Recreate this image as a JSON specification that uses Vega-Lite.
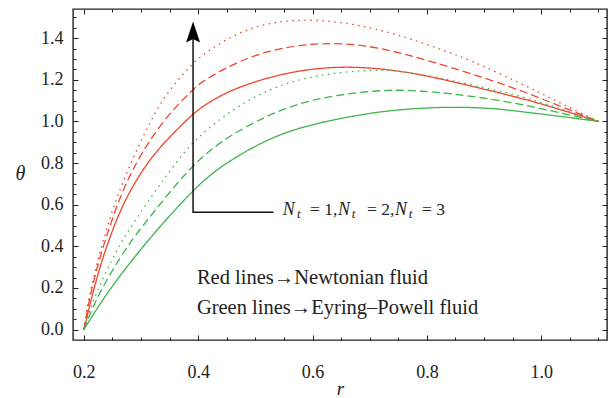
{
  "$schema": "https://vega.github.io/schema/vega-lite/v6.json",
  "autosize": {"type": "none"},
  "padding": {"left": 73, "top": 9, "right": 6, "bottom": 58},
  "width": 534,
  "height": 331,
  "background": "white",
  "config": {
    "view": {"stroke": "#222", "strokeWidth": 1.4},
    "axis": {"grid": false, "domain": false, "tickColor": "#222", "tickWidth": 1, "labelFont": "Liberation Serif", "labelFontSize": 18, "labelColor": "#222", "titleFont": "Liberation Serif", "titleColor": "#222", "titleFontWeight": "normal"}
  },
  "datasets": {
    "curves": [
      {"r":0.2,"theta":0,"fluid":"Newtonian","Nt":"1"},
      {"r":0.215,"theta":0.17,"fluid":"Newtonian","Nt":"1"},
      {"r":0.23,"theta":0.32,"fluid":"Newtonian","Nt":"1"},
      {"r":0.25,"theta":0.48,"fluid":"Newtonian","Nt":"1"},
      {"r":0.27,"theta":0.61,"fluid":"Newtonian","Nt":"1"},
      {"r":0.29,"theta":0.71,"fluid":"Newtonian","Nt":"1"},
      {"r":0.31,"theta":0.795,"fluid":"Newtonian","Nt":"1"},
      {"r":0.33,"theta":0.865,"fluid":"Newtonian","Nt":"1"},
      {"r":0.35,"theta":0.925,"fluid":"Newtonian","Nt":"1"},
      {"r":0.377,"theta":1.0,"fluid":"Newtonian","Nt":"1"},
      {"r":0.391,"theta":1.035,"fluid":"Newtonian","Nt":"1"},
      {"r":0.409,"theta":1.075,"fluid":"Newtonian","Nt":"1"},
      {"r":0.44,"theta":1.125,"fluid":"Newtonian","Nt":"1"},
      {"r":0.467,"theta":1.16,"fluid":"Newtonian","Nt":"1"},
      {"r":0.52,"theta":1.21,"fluid":"Newtonian","Nt":"1"},
      {"r":0.578,"theta":1.245,"fluid":"Newtonian","Nt":"1"},
      {"r":0.636,"theta":1.262,"fluid":"Newtonian","Nt":"1"},
      {"r":0.695,"theta":1.26,"fluid":"Newtonian","Nt":"1"},
      {"r":0.753,"theta":1.242,"fluid":"Newtonian","Nt":"1"},
      {"r":0.811,"theta":1.213,"fluid":"Newtonian","Nt":"1"},
      {"r":0.875,"theta":1.171,"fluid":"Newtonian","Nt":"1"},
      {"r":0.962,"theta":1.115,"fluid":"Newtonian","Nt":"1"},
      {"r":1.032,"theta":1.058,"fluid":"Newtonian","Nt":"1"},
      {"r":1.1,"theta":1.0,"fluid":"Newtonian","Nt":"1"},

      {"r":0.2,"theta":0,"fluid":"Newtonian","Nt":"2"},
      {"r":0.211,"theta":0.17,"fluid":"Newtonian","Nt":"2"},
      {"r":0.231,"theta":0.38,"fluid":"Newtonian","Nt":"2"},
      {"r":0.258,"theta":0.6,"fluid":"Newtonian","Nt":"2"},
      {"r":0.275,"theta":0.71,"fluid":"Newtonian","Nt":"2"},
      {"r":0.299,"theta":0.84,"fluid":"Newtonian","Nt":"2"},
      {"r":0.339,"theta":1.008,"fluid":"Newtonian","Nt":"2"},
      {"r":0.391,"theta":1.155,"fluid":"Newtonian","Nt":"2"},
      {"r":0.409,"theta":1.197,"fluid":"Newtonian","Nt":"2"},
      {"r":0.467,"theta":1.285,"fluid":"Newtonian","Nt":"2"},
      {"r":0.52,"theta":1.337,"fluid":"Newtonian","Nt":"2"},
      {"r":0.578,"theta":1.368,"fluid":"Newtonian","Nt":"2"},
      {"r":0.636,"theta":1.377,"fluid":"Newtonian","Nt":"2"},
      {"r":0.695,"theta":1.365,"fluid":"Newtonian","Nt":"2"},
      {"r":0.753,"theta":1.33,"fluid":"Newtonian","Nt":"2"},
      {"r":0.811,"theta":1.285,"fluid":"Newtonian","Nt":"2"},
      {"r":0.875,"theta":1.232,"fluid":"Newtonian","Nt":"2"},
      {"r":0.962,"theta":1.152,"fluid":"Newtonian","Nt":"2"},
      {"r":1.032,"theta":1.074,"fluid":"Newtonian","Nt":"2"},
      {"r":1.1,"theta":1.0,"fluid":"Newtonian","Nt":"2"},

      {"r":0.2,"theta":0,"fluid":"Newtonian","Nt":"3"},
      {"r":0.208,"theta":0.16,"fluid":"Newtonian","Nt":"3"},
      {"r":0.24,"theta":0.5,"fluid":"Newtonian","Nt":"3"},
      {"r":0.264,"theta":0.68,"fluid":"Newtonian","Nt":"3"},
      {"r":0.287,"theta":0.832,"fluid":"Newtonian","Nt":"3"},
      {"r":0.316,"theta":1.0,"fluid":"Newtonian","Nt":"3"},
      {"r":0.339,"theta":1.11,"fluid":"Newtonian","Nt":"3"},
      {"r":0.366,"theta":1.205,"fluid":"Newtonian","Nt":"3"},
      {"r":0.386,"theta":1.265,"fluid":"Newtonian","Nt":"3"},
      {"r":0.409,"theta":1.325,"fluid":"Newtonian","Nt":"3"},
      {"r":0.467,"theta":1.425,"fluid":"Newtonian","Nt":"3"},
      {"r":0.52,"theta":1.472,"fluid":"Newtonian","Nt":"3"},
      {"r":0.578,"theta":1.49,"fluid":"Newtonian","Nt":"3"},
      {"r":0.636,"theta":1.482,"fluid":"Newtonian","Nt":"3"},
      {"r":0.695,"theta":1.455,"fluid":"Newtonian","Nt":"3"},
      {"r":0.753,"theta":1.413,"fluid":"Newtonian","Nt":"3"},
      {"r":0.811,"theta":1.36,"fluid":"Newtonian","Nt":"3"},
      {"r":0.875,"theta":1.296,"fluid":"Newtonian","Nt":"3"},
      {"r":0.962,"theta":1.186,"fluid":"Newtonian","Nt":"3"},
      {"r":1.032,"theta":1.09,"fluid":"Newtonian","Nt":"3"},
      {"r":1.1,"theta":1.0,"fluid":"Newtonian","Nt":"3"},

      {"r":0.2,"theta":0,"fluid":"Eyring-Powell","Nt":"1"},
      {"r":0.243,"theta":0.19,"fluid":"Eyring-Powell","Nt":"1"},
      {"r":0.313,"theta":0.435,"fluid":"Eyring-Powell","Nt":"1"},
      {"r":0.391,"theta":0.672,"fluid":"Eyring-Powell","Nt":"1"},
      {"r":0.438,"theta":0.785,"fluid":"Eyring-Powell","Nt":"1"},
      {"r":0.52,"theta":0.915,"fluid":"Eyring-Powell","Nt":"1"},
      {"r":0.58,"theta":0.972,"fluid":"Eyring-Powell","Nt":"1"},
      {"r":0.636,"theta":1.008,"fluid":"Eyring-Powell","Nt":"1"},
      {"r":0.7,"theta":1.04,"fluid":"Eyring-Powell","Nt":"1"},
      {"r":0.753,"theta":1.057,"fluid":"Eyring-Powell","Nt":"1"},
      {"r":0.81,"theta":1.067,"fluid":"Eyring-Powell","Nt":"1"},
      {"r":0.863,"theta":1.069,"fluid":"Eyring-Powell","Nt":"1"},
      {"r":0.92,"theta":1.062,"fluid":"Eyring-Powell","Nt":"1"},
      {"r":0.962,"theta":1.048,"fluid":"Eyring-Powell","Nt":"1"},
      {"r":1.032,"theta":1.025,"fluid":"Eyring-Powell","Nt":"1"},
      {"r":1.1,"theta":1.0,"fluid":"Eyring-Powell","Nt":"1"},

      {"r":0.2,"theta":0,"fluid":"Eyring-Powell","Nt":"2"},
      {"r":0.226,"theta":0.18,"fluid":"Eyring-Powell","Nt":"2"},
      {"r":0.278,"theta":0.41,"fluid":"Eyring-Powell","Nt":"2"},
      {"r":0.298,"theta":0.48,"fluid":"Eyring-Powell","Nt":"2"},
      {"r":0.351,"theta":0.665,"fluid":"Eyring-Powell","Nt":"2"},
      {"r":0.391,"theta":0.79,"fluid":"Eyring-Powell","Nt":"2"},
      {"r":0.438,"theta":0.905,"fluid":"Eyring-Powell","Nt":"2"},
      {"r":0.52,"theta":1.03,"fluid":"Eyring-Powell","Nt":"2"},
      {"r":0.58,"theta":1.09,"fluid":"Eyring-Powell","Nt":"2"},
      {"r":0.636,"theta":1.124,"fluid":"Eyring-Powell","Nt":"2"},
      {"r":0.706,"theta":1.147,"fluid":"Eyring-Powell","Nt":"2"},
      {"r":0.753,"theta":1.152,"fluid":"Eyring-Powell","Nt":"2"},
      {"r":0.81,"theta":1.143,"fluid":"Eyring-Powell","Nt":"2"},
      {"r":0.875,"theta":1.123,"fluid":"Eyring-Powell","Nt":"2"},
      {"r":0.962,"theta":1.085,"fluid":"Eyring-Powell","Nt":"2"},
      {"r":1.032,"theta":1.042,"fluid":"Eyring-Powell","Nt":"2"},
      {"r":1.1,"theta":1.0,"fluid":"Eyring-Powell","Nt":"2"},

      {"r":0.2,"theta":0,"fluid":"Eyring-Powell","Nt":"3"},
      {"r":0.219,"theta":0.17,"fluid":"Eyring-Powell","Nt":"3"},
      {"r":0.261,"theta":0.4,"fluid":"Eyring-Powell","Nt":"3"},
      {"r":0.275,"theta":0.464,"fluid":"Eyring-Powell","Nt":"3"},
      {"r":0.322,"theta":0.656,"fluid":"Eyring-Powell","Nt":"3"},
      {"r":0.369,"theta":0.83,"fluid":"Eyring-Powell","Nt":"3"},
      {"r":0.391,"theta":0.9,"fluid":"Eyring-Powell","Nt":"3"},
      {"r":0.421,"theta":0.975,"fluid":"Eyring-Powell","Nt":"3"},
      {"r":0.467,"theta":1.07,"fluid":"Eyring-Powell","Nt":"3"},
      {"r":0.52,"theta":1.15,"fluid":"Eyring-Powell","Nt":"3"},
      {"r":0.578,"theta":1.205,"fluid":"Eyring-Powell","Nt":"3"},
      {"r":0.648,"theta":1.238,"fluid":"Eyring-Powell","Nt":"3"},
      {"r":0.72,"theta":1.248,"fluid":"Eyring-Powell","Nt":"3"},
      {"r":0.753,"theta":1.242,"fluid":"Eyring-Powell","Nt":"3"},
      {"r":0.811,"theta":1.217,"fluid":"Eyring-Powell","Nt":"3"},
      {"r":0.875,"theta":1.178,"fluid":"Eyring-Powell","Nt":"3"},
      {"r":0.962,"theta":1.125,"fluid":"Eyring-Powell","Nt":"3"},
      {"r":1.032,"theta":1.062,"fluid":"Eyring-Powell","Nt":"3"},
      {"r":1.1,"theta":1.0,"fluid":"Eyring-Powell","Nt":"3"}
    ],
    "arrow": [
      {"r":0.5315,"theta":0.564,"step":0},
      {"r":0.391,"theta":0.564,"step":1},
      {"r":0.391,"theta":1.4,"step":2}
    ],
    "arrowhead": [{"r":0.391,"theta":1.429}],
    "ntN": [{"r":0.548,"theta":0.552,"txt":"N"},{"r":0.6445,"theta":0.552,"txt":"N"},{"r":0.7441,"theta":0.552,"txt":"N"}],
    "ntT": [{"r":0.5727,"theta":0.535,"txt":"t"},{"r":0.6687,"theta":0.535,"txt":"t"},{"r":0.7683,"theta":0.535,"txt":"t"}],
    "ntEq": [{"r":0.5956,"theta":0.552,"txt":"= 1,"},{"r":0.6952,"theta":0.552,"txt":"= 2,"},{"r":0.7913,"theta":0.552,"txt":"= 3"}],
    "desc": [{"r":0.3977,"theta":0.221,"txt":"Red lines→Newtonian fluid"},{"r":0.3977,"theta":0.077,"txt":"Green lines→Eyring–Powell fluid"}]
  },
  "resolve": {"axis": {"x": "independent", "y": "independent"}},
  "layer": [
    {
      "data": {"name": "curves"},
      "mark": {"type": "line", "interpolate": "basis", "strokeWidth": 1.3},
      "encoding": {
        "x": {"field": "r", "type": "quantitative", "scale": {"domain": [0.181, 1.115], "nice": false, "zero": false},
              "axis": {"orient": "bottom", "values": [0.2, 0.4, 0.6, 0.8, 1.0], "format": ".1f", "tickSize": -5, "labelPadding": 28, "title": "r", "titleFontStyle": "italic", "titleFontSize": 19, "titleBaseline": "alphabetic", "titleY": 54}},
        "y": {"field": "theta", "type": "quantitative", "scale": {"domain": [-0.05, 1.54], "nice": false, "zero": false},
              "axis": {"orient": "left", "values": [0, 0.2, 0.4, 0.6, 0.8, 1.0, 1.2, 1.4], "format": ".1f", "tickSize": -5, "labelPadding": 15, "title": "θ", "titleAngle": 0, "titleFontStyle": "italic", "titleFontSize": 20, "titleX": -53, "titleY": 164, "titleBaseline": "middle", "titleAlign": "center"}},
        "color": {"field": "fluid", "type": "nominal", "scale": {"domain": ["Newtonian", "Eyring-Powell"], "range": ["#f0462d", "#3db54a"]}, "legend": null},
        "strokeDash": {"field": "Nt", "type": "nominal", "scale": {"domain": ["1", "2", "3"], "range": [[1, 0], [8, 4], [1.5, 4.5]]}, "legend": null},
        "detail": {"field": "Nt"}
      }
    },
    {
      "data": {"name": "curves"},
      "mark": {"type": "point", "opacity": 0},
      "encoding": {
        "x": {"field": "r", "type": "quantitative", "scale": {"domain": [0.181, 1.115], "nice": false, "zero": false},
              "axis": {"orient": "bottom", "values": [0.25, 0.3, 0.35, 0.45, 0.5, 0.55, 0.65, 0.7, 0.75, 0.85, 0.9, 0.95, 1.05, 1.1], "labels": false, "tickSize": -3, "title": null}},
        "y": {"field": "theta", "type": "quantitative", "scale": {"domain": [-0.05, 1.54], "nice": false, "zero": false},
              "axis": {"orient": "left", "values": [0.05, 0.1, 0.15, 0.25, 0.3, 0.35, 0.45, 0.5, 0.55, 0.65, 0.7, 0.75, 0.85, 0.9, 0.95, 1.05, 1.1, 1.15, 1.25, 1.3, 1.35, 1.45, 1.5], "labels": false, "tickSize": -3, "title": null}}
      }
    },
    {
      "data": {"name": "curves"},
      "mark": {"type": "point", "opacity": 0},
      "encoding": {
        "x": {"field": "r", "type": "quantitative", "scale": {"domain": [0.181, 1.115], "nice": false, "zero": false},
              "axis": {"orient": "top", "values": [0.2, 0.4, 0.6, 0.8, 1.0], "labels": false, "tickSize": -5, "title": null}},
        "y": {"field": "theta", "type": "quantitative", "scale": {"domain": [-0.05, 1.54], "nice": false, "zero": false},
              "axis": {"orient": "right", "values": [0, 0.2, 0.4, 0.6, 0.8, 1.0, 1.2, 1.4], "labels": false, "tickSize": -5, "title": null}}
      }
    },
    {
      "data": {"name": "curves"},
      "mark": {"type": "point", "opacity": 0},
      "encoding": {
        "x": {"field": "r", "type": "quantitative", "scale": {"domain": [0.181, 1.115], "nice": false, "zero": false},
              "axis": {"orient": "top", "values": [0.25, 0.3, 0.35, 0.45, 0.5, 0.55, 0.65, 0.7, 0.75, 0.85, 0.9, 0.95, 1.05, 1.1], "labels": false, "tickSize": -3, "title": null}},
        "y": {"field": "theta", "type": "quantitative", "scale": {"domain": [-0.05, 1.54], "nice": false, "zero": false},
              "axis": {"orient": "right", "values": [0.05, 0.1, 0.15, 0.25, 0.3, 0.35, 0.45, 0.5, 0.55, 0.65, 0.7, 0.75, 0.85, 0.9, 0.95, 1.05, 1.1, 1.15, 1.25, 1.3, 1.35, 1.45, 1.5], "labels": false, "tickSize": -3, "title": null}}
      }
    },
    {
      "data": {"name": "arrow"},
      "mark": {"type": "line", "color": "#111", "strokeWidth": 1.5},
      "encoding": {
        "x": {"field": "r", "type": "quantitative", "axis": null},
        "y": {"field": "theta", "type": "quantitative", "axis": null},
        "order": {"field": "step", "type": "quantitative"}
      }
    },
    {
      "data": {"name": "arrowhead"},
      "mark": {"type": "point", "filled": true, "color": "#000", "opacity": 1, "shape": "M0,-1L-0.667,1L0,0.65L0.667,1Z", "size": 441},
      "encoding": {
        "x": {"field": "r", "type": "quantitative", "axis": null},
        "y": {"field": "theta", "type": "quantitative", "axis": null}
      }
    },
    {
      "data": {"name": "ntN"},
      "mark": {"type": "text", "font": "Liberation Serif", "fontStyle": "italic", "fontSize": 18, "align": "left", "baseline": "alphabetic", "color": "#222"},
      "encoding": {
        "x": {"field": "r", "type": "quantitative", "axis": null},
        "y": {"field": "theta", "type": "quantitative", "axis": null},
        "text": {"field": "txt"}
      }
    },
    {
      "data": {"name": "ntT"},
      "mark": {"type": "text", "font": "Liberation Serif", "fontStyle": "italic", "fontSize": 13, "align": "left", "baseline": "alphabetic", "color": "#222"},
      "encoding": {
        "x": {"field": "r", "type": "quantitative", "axis": null},
        "y": {"field": "theta", "type": "quantitative", "axis": null},
        "text": {"field": "txt"}
      }
    },
    {
      "data": {"name": "ntEq"},
      "mark": {"type": "text", "font": "Liberation Serif", "fontSize": 17.5, "align": "left", "baseline": "alphabetic", "color": "#222"},
      "encoding": {
        "x": {"field": "r", "type": "quantitative", "axis": null},
        "y": {"field": "theta", "type": "quantitative", "axis": null},
        "text": {"field": "txt"}
      }
    },
    {
      "data": {"name": "desc"},
      "mark": {"type": "text", "font": "Liberation Serif", "fontSize": 20.5, "align": "left", "baseline": "alphabetic", "color": "#222"},
      "encoding": {
        "x": {"field": "r", "type": "quantitative", "axis": null},
        "y": {"field": "theta", "type": "quantitative", "axis": null},
        "text": {"field": "txt"}
      }
    }
  ]
}
